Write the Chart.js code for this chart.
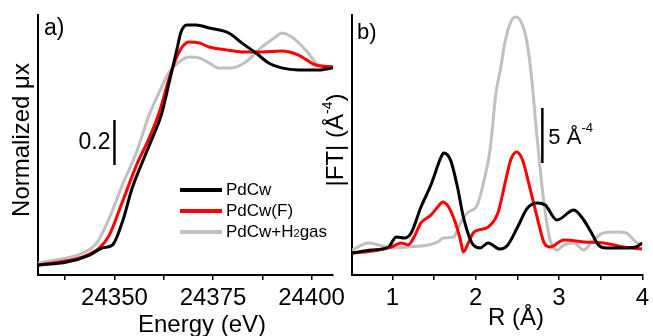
<!DOCTYPE html>
<html>
<head>
<meta charset="utf-8">
<script src="https://cdn.jsdelivr.net/npm/chart.js@4.4.1/dist/chart.umd.min.js"></script>
<style>
  html, body { margin: 0; padding: 0; background: #fff; }
  body { width: 653px; height: 336px; position: relative; overflow: hidden; }
  canvas { position: absolute; top: 0; }
  #cA { left: 0; }
  #cB { left: 320px; }
</style>
</head>
<body>
<canvas id="cA" width="350" height="336"></canvas>
<canvas id="cB" width="333" height="336"></canvas>
<script>
// ---------- Panel a) XANES ----------
const seriesNames = ['PdCw', 'PdCw(F)', 'PdCw+H2gas'];
const seriesColors = ['#000000', '#ff0000', '#c0c0c0'];

const xanesE_PdCw  = [24330.6, 24337.9, 24343.7, 24347.0, 24349.5, 24352.0, 24354.5, 24357.1, 24359.6, 24361.9, 24363.9, 24365.7, 24366.9, 24368.4, 24370.7, 24374.0, 24379.0, 24382.3, 24385.9, 24389.1, 24392.4, 24396.7, 24401.8, 24405.5];
const xanesMu_PdCw = [0.000, 0.013, 0.044, 0.076, 0.089, 0.191, 0.342, 0.458, 0.564, 0.667, 0.813, 0.947, 1.036, 1.067, 1.067, 1.053, 1.031, 0.987, 0.942, 0.898, 0.876, 0.867, 0.867, 0.876];

const xanesE_PdCwF  = [24330.6, 24341.9, 24346.2, 24348.7, 24352.0, 24355.6, 24358.8, 24361.4, 24363.9, 24365.7, 24367.2, 24368.9, 24371.5, 24374.0, 24378.3, 24382.3, 24387.4, 24392.4, 24396.7, 24401.0, 24405.5];
const xanesMu_PdCwF = [0.000, 0.036, 0.076, 0.133, 0.280, 0.444, 0.564, 0.680, 0.831, 0.920, 0.969, 0.991, 0.987, 0.969, 0.956, 0.947, 0.947, 0.951, 0.933, 0.889, 0.880];

const xanesE_PdCwH2  = [24330.6, 24341.9, 24345.5, 24348.7, 24352.0, 24355.6, 24358.8, 24361.4, 24363.9, 24366.4, 24368.9, 24371.5, 24374.0, 24376.5, 24379.8, 24383.3, 24387.4, 24390.9, 24392.4, 24395.0, 24398.5, 24401.8, 24405.5];
const xanesMu_PdCwH2 = [0.009, 0.053, 0.098, 0.209, 0.356, 0.502, 0.667, 0.769, 0.858, 0.902, 0.924, 0.920, 0.898, 0.876, 0.876, 0.902, 0.969, 1.013, 1.031, 1.013, 0.956, 0.889, 0.880];

const xanesTickValues = [24350, 24375, 24400];
const xanesAllTicks = [24337.5, 24350, 24362.5, 24375, 24387.5, 24400];
const xanesScaleBar = [24350, 0.444, 0.644]; // x, y from, y to  (0.2 units)
const xanesScaleLabel = '0.2';

// ---------- Panel b) FT-EXAFS ----------
const ftR_PdCw  = [0.515, 0.751, 0.953, 1.047, 1.142, 1.225, 1.343, 1.462, 1.580, 1.615, 1.698, 1.781, 1.852, 1.970, 2.053, 2.148, 2.290, 2.385, 2.503, 2.621, 2.740, 2.834, 2.976, 3.178, 3.296, 3.391, 3.473, 3.568, 3.746, 3.923, 4.0];
const ftMag_PdCw = [2.00, 2.27, 2.55, 3.45, 3.36, 3.82, 6.18, 8.18, 10.64, 11.09, 10.45, 8.00, 5.27, 2.73, 2.45, 2.91, 2.36, 2.73, 4.36, 6.09, 6.55, 6.36, 5.00, 5.91, 5.00, 3.82, 2.73, 2.45, 2.45, 2.55, 2.91];

const ftR_PdCwF  = [0.515, 0.669, 0.834, 0.988, 1.107, 1.189, 1.260, 1.343, 1.462, 1.544, 1.604, 1.675, 1.757, 1.817, 1.852, 1.911, 1.970, 2.030, 2.148, 2.266, 2.361, 2.420, 2.491, 2.562, 2.645, 2.740, 2.822, 2.893, 3.059, 3.296, 3.533, 3.769, 4.0];
const ftMag_PdCwF = [2.00, 2.09, 2.27, 2.55, 2.91, 2.73, 3.45, 4.73, 5.45, 6.18, 6.64, 6.18, 4.73, 3.18, 2.09, 2.91, 3.82, 4.09, 4.36, 5.64, 8.64, 10.45, 11.18, 10.45, 8.09, 5.18, 2.91, 2.55, 3.18, 3.00, 2.91, 2.55, 2.36];

const ftR_PdCwH2  = [0.515, 0.716, 0.834, 0.988, 1.189, 1.426, 1.544, 1.615, 1.734, 1.817, 1.899, 2.018, 2.101, 2.172, 2.243, 2.302, 2.349, 2.420, 2.479, 2.562, 2.621, 2.680, 2.728, 2.775, 2.822, 2.893, 2.976, 3.059, 3.178, 3.296, 3.414, 3.533, 3.686, 3.805, 3.923, 4.0];
const ftMag_PdCwH2 = [2.27, 2.91, 2.73, 2.45, 2.55, 2.73, 3.00, 3.36, 3.45, 4.73, 5.64, 6.36, 8.64, 11.36, 16.55, 18.91, 21.09, 23.00, 23.45, 22.73, 20.91, 17.27, 13.18, 9.55, 6.36, 3.18, 2.27, 2.73, 2.91, 2.27, 3.18, 3.82, 3.91, 3.82, 3.00, 2.73];

const ftTickValues = [1, 2, 3, 4];
const ftAllTicks = [1, 1.5, 2, 2.5, 3, 3.5, 4];
const ftScaleBar = [2.80, 10.18, 15.18]; // x, y from, y to (5 units)

// ---------- helpers ----------
const FONT = '"Liberation Sans", Arial, Helvetica, sans-serif';
function pts(xs, ys) { return xs.map((x, i) => ({ x: x, y: ys[i] })); }
function curve(label, xs, ys, color) {
  return { label, data: pts(xs, ys), borderColor: color, backgroundColor: color,
           borderWidth: 3, pointRadius: 0, fill: false, cubicInterpolationMode: 'monotone' };
}
function bar(b) {
  return { label: 'scalebar', data: [{ x: b[0], y: b[1] }, { x: b[0], y: b[2] }],
           borderColor: '#000', borderWidth: 2.5, pointRadius: 0, tension: 0, fill: false };
}
function xAxis(min, max, allTicks, labelled) {
  return {
    type: 'linear', min, max, position: 'bottom',
    afterBuildTicks: s => { s.ticks = allTicks.map(v => ({ value: v })); },
    afterFit: s => { s.height = 61; },
    border: { display: true, color: '#000', width: 2 },
    grid: { display: true, drawOnChartArea: false, drawTicks: true, tickLength: 5, color: '#000', lineWidth: 1.5 },
    ticks: { autoSkip: false, maxRotation: 0, minRotation: 0,
             padding: 4, color: '#000', font: { family: FONT, size: 24 },
             callback: v => labelled.some(t => Math.abs(t - v) < 1e-3) ? String(Math.round(v)) : '' }
  };
}
function yAxis(min, max) {
  return {
    type: 'linear', min, max,
    afterFit: s => { s.width = 0; },
    border: { display: true, color: '#000', width: 2 },
    grid: { display: false },
    ticks: { display: false }
  };
}
const baseOpts = {
  responsive: false, animation: false, events: [],
  plugins: { legend: { display: false }, tooltip: { enabled: false } }
};

function rotText(ctx, x, y, parts) {
  ctx.save();
  ctx.translate(x, y);
  ctx.rotate(-Math.PI / 2);
  let total = 0;
  parts.forEach(p => { ctx.font = p[1] + 'px ' + FONT; total += ctx.measureText(p[0]).width; });
  let cx = -total / 2;
  ctx.textAlign = 'left'; ctx.textBaseline = 'middle';
  parts.forEach(p => { ctx.font = p[1] + 'px ' + FONT; ctx.fillText(p[0], cx, -(p[2] || 0)); cx += ctx.measureText(p[0]).width; });
  ctx.restore();
}
function richText(ctx, x, y, parts) {
  let cx = x;
  ctx.textAlign = 'left'; ctx.textBaseline = 'middle';
  parts.forEach(p => { ctx.font = p[1] + 'px ' + FONT; ctx.fillText(p[0], cx, y - (p[2] || 0)); cx += ctx.measureText(p[0]).width; });
}

// ---------- chart a ----------
const annotA = {
  id: 'annotA',
  afterDraw(chart) {
    const ctx = chart.ctx;
    const ys = chart.scales.y, xs = chart.scales.x;
    ctx.save();
    ctx.fillStyle = '#000';
    ctx.font = '24px ' + FONT; ctx.textAlign = 'center'; ctx.textBaseline = 'middle';
    ctx.fillText('Energy (eV)', 202, 325);
    rotText(ctx, 22, 140, [['Normalized \u03BCx', 24, 0]]);
    ctx.font = '23px ' + FONT; ctx.textAlign = 'left';
    ctx.fillText('a)', 44, 29);
    ctx.textAlign = 'right';
    ctx.fillText(xanesScaleLabel, xs.getPixelForValue(xanesScaleBar[0]) - 4,
                 ys.getPixelForValue((xanesScaleBar[1] + xanesScaleBar[2]) / 2));
    const rows = [190, 211, 232];
    seriesNames.forEach((n, i) => {
      ctx.strokeStyle = seriesColors[i]; ctx.lineWidth = 4;
      ctx.beginPath(); ctx.moveTo(180, rows[i]); ctx.lineTo(222, rows[i]); ctx.stroke();
      ctx.fillStyle = '#000';
      if (n === 'PdCw+H2gas') richText(ctx, 226, rows[i], [['PdCw+H', 17, 0], ['2', 11, -2], ['gas', 17, 0]]);
      else richText(ctx, 226, rows[i], [[n, 17, 0]]);
    });
    ctx.restore();
  }
};

new Chart(document.getElementById('cA'), {
  type: 'line',
  data: { datasets: [
    curve(seriesNames[0], xanesE_PdCw, xanesMu_PdCw, seriesColors[0]),
    curve(seriesNames[1], xanesE_PdCwF, xanesMu_PdCwF, seriesColors[1]),
    curve(seriesNames[2], xanesE_PdCwH2, xanesMu_PdCwH2, seriesColors[2]),
    bar(xanesScaleBar)
  ]},
  options: Object.assign({}, baseOpts, {
    layout: { padding: { left: 38, top: 15, right: 15, bottom: 0 } },
    scales: { x: xAxis(24330.6, 24405.5, xanesAllTicks, xanesTickValues), y: yAxis(-0.0444, 1.111) }
  }),
  plugins: [annotA]
});

// ---------- chart b ----------
const annotB = {
  id: 'annotB',
  afterDraw(chart) {
    const ctx = chart.ctx;
    const ys = chart.scales.y, xs = chart.scales.x;
    ctx.save();
    ctx.fillStyle = '#000';
    richText(ctx, 488 - 320, 318, [['R (\u00C5)', 24, 0]]);
    rotText(ctx, 336 - 320, 140, [['|FT| (\u00C5', 24, 0], ['-4', 14, 8], [')', 24, 0]]);
    ctx.font = '22px ' + FONT; ctx.textAlign = 'left'; ctx.textBaseline = 'middle';
    ctx.fillText('b)', 357 - 320, 33);
    const bx = xs.getPixelForValue(ftScaleBar[0]);
    const by = ys.getPixelForValue((ftScaleBar[1] + ftScaleBar[2]) / 2);
    richText(ctx, bx + 6, by + 2, [['5 \u00C5', 22, 0], ['-4', 13, 9]]);
    ctx.restore();
  }
};

new Chart(document.getElementById('cB'), {
  type: 'line',
  data: { datasets: [
    curve(seriesNames[0], ftR_PdCw, ftMag_PdCw, seriesColors[0]),
    curve(seriesNames[1], ftR_PdCwF, ftMag_PdCwF, seriesColors[1]),
    curve(seriesNames[2], ftR_PdCwH2, ftMag_PdCwH2, seriesColors[2]),
    bar(ftScaleBar)
  ]},
  options: Object.assign({}, baseOpts, {
    layout: { padding: { left: 32, top: 15, right: 7, bottom: 0 } },
    scales: { x: xAxis(0.515, 4.0, ftAllTicks, ftTickValues), y: yAxis(0, 23.64) }
  }),
  plugins: [annotB]
});
</script>
</body>
</html>
